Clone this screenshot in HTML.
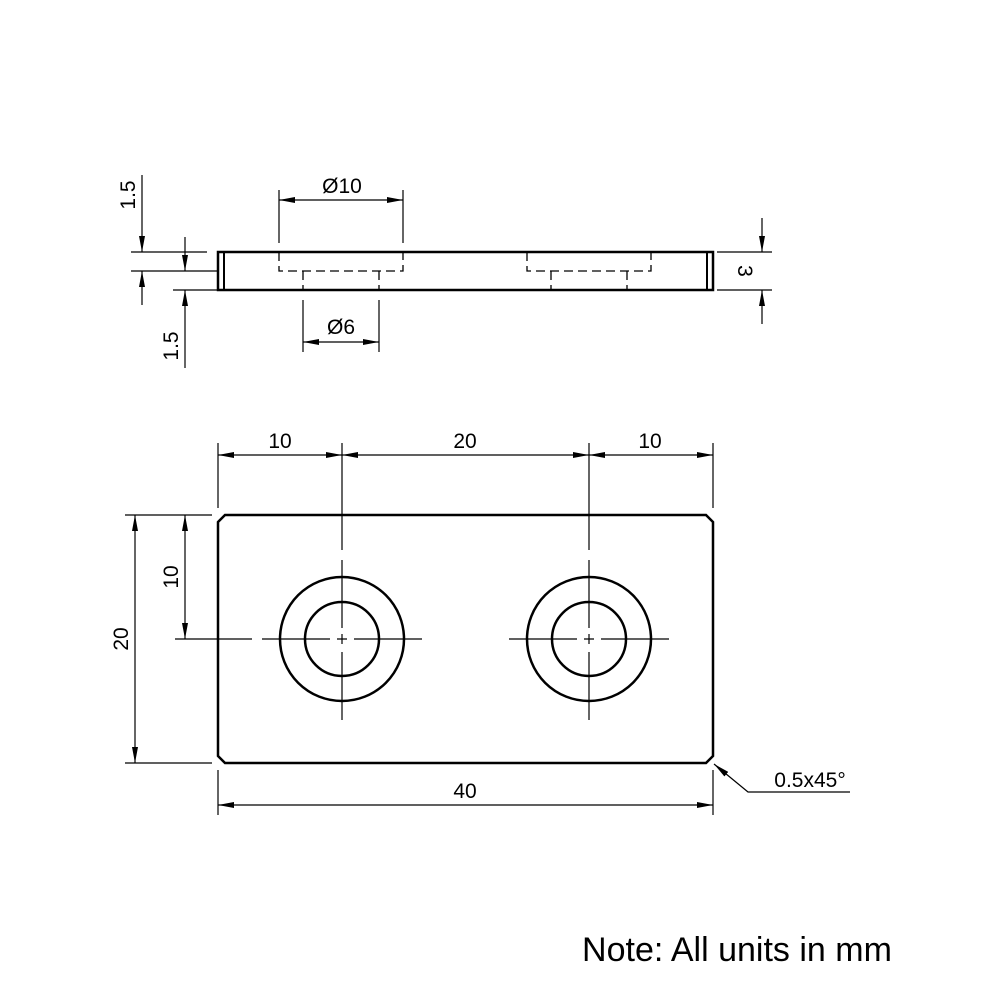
<!DOCTYPE html>
<html><head><meta charset="utf-8"><style>html,body{margin:0;padding:0;background:#fff}svg{display:block}text{font-family:"Liberation Sans",sans-serif;fill:#000}</style></head>
<body>
<svg width="1000" height="1000" viewBox="0 0 1000 1000">
<defs>
<marker id="a" viewBox="0 0 16 6" refX="16" refY="3" markerWidth="16" markerHeight="6" markerUnits="userSpaceOnUse" orient="auto-start-reverse"><path d="M0,0L16,3L0,6z" fill="#000"/></marker>
</defs>
<g stroke="#000" fill="none">
<rect x="218" y="252" width="495" height="38" stroke-width="2.5"/>
<line x1="224" y1="252" x2="224" y2="290" stroke-width="2"/>
<line x1="707" y1="252" x2="707" y2="290" stroke-width="2"/>
<g stroke-width="1.3" stroke-dasharray="9,5">
<path d="M279,252V271H403V252"/><path d="M303,271V290M379,271V290"/>
<path d="M527,252V271H651V252"/><path d="M551,271V290M627,271V290"/>
</g>
<g stroke-width="1.2">
<line x1="131" y1="252" x2="207" y2="252"/>
<line x1="131" y1="271" x2="218" y2="271"/>
<line x1="173" y1="290" x2="218" y2="290"/>
<line x1="142" y1="175" x2="142" y2="252" marker-end="url(#a)"/>
<line x1="142" y1="305" x2="142" y2="271" marker-end="url(#a)"/>
<line x1="185" y1="237" x2="185" y2="271" marker-end="url(#a)"/>
<line x1="185" y1="368" x2="185" y2="290" marker-end="url(#a)"/>
<line x1="279" y1="190" x2="279" y2="243"/><line x1="403" y1="190" x2="403" y2="243"/>
<line x1="279" y1="200" x2="403" y2="200" marker-start="url(#a)" marker-end="url(#a)"/>
<line x1="303" y1="300" x2="303" y2="352"/><line x1="379" y1="300" x2="379" y2="352"/>
<line x1="303" y1="342" x2="379" y2="342" marker-start="url(#a)" marker-end="url(#a)"/>
<line x1="717" y1="252" x2="772" y2="252"/><line x1="717" y1="290" x2="772" y2="290"/>
<line x1="762" y1="218" x2="762" y2="252" marker-end="url(#a)"/>
<line x1="762" y1="324" x2="762" y2="290" marker-end="url(#a)"/>
</g>
<path d="M225,515H706L713,522V756L706,763H225L218,756V522Z" stroke-width="2.5"/>
<circle cx="342" cy="639" r="62" stroke-width="2.5"/><circle cx="342" cy="639" r="37" stroke-width="2.5"/>
<circle cx="589" cy="639" r="62" stroke-width="2.5"/><circle cx="589" cy="639" r="37" stroke-width="2.5"/>
<g stroke-width="1.2">
<path d="M342,443V550M342,560V628M342,634V644M342,652V720"/>
<path d="M589,443V550M589,560V628M589,634V644M589,652V720"/>
<path d="M175,639H252M262,639H330M337,639H347M354,639H422"/>
<path d="M509,639H577M584,639H594M601,639H669"/>
<line x1="218" y1="443" x2="218" y2="508"/><line x1="713" y1="443" x2="713" y2="508"/>
<line x1="218" y1="455" x2="342" y2="455" marker-start="url(#a)" marker-end="url(#a)"/>
<line x1="342" y1="455" x2="589" y2="455" marker-start="url(#a)" marker-end="url(#a)"/>
<line x1="589" y1="455" x2="713" y2="455" marker-start="url(#a)" marker-end="url(#a)"/>
<line x1="125" y1="515" x2="212" y2="515"/><line x1="125" y1="763" x2="212" y2="763"/>
<line x1="135" y1="515" x2="135" y2="763" marker-start="url(#a)" marker-end="url(#a)"/>
<line x1="185" y1="515" x2="185" y2="639" marker-start="url(#a)" marker-end="url(#a)"/>
<line x1="218" y1="770" x2="218" y2="815"/><line x1="713" y1="770" x2="713" y2="815"/>
<line x1="218" y1="805" x2="713" y2="805" marker-start="url(#a)" marker-end="url(#a)"/>
<path d="M850,792H748L714,764" marker-end="url(#a)"/>
</g>
</g>
<g font-size="21">
<text x="342" y="193" text-anchor="middle">Ø10</text>
<text x="341" y="334" text-anchor="middle">Ø6</text>
<text transform="translate(135,195) rotate(-90)" text-anchor="middle">1.5</text>
<text transform="translate(178,346) rotate(-90)" text-anchor="middle">1.5</text>
<text transform="translate(738,271) rotate(90)" text-anchor="middle">3</text>
<text x="280" y="448" text-anchor="middle">10</text>
<text x="465" y="448" text-anchor="middle">20</text>
<text x="650" y="448" text-anchor="middle">10</text>
<text transform="translate(128,639) rotate(-90)" text-anchor="middle">20</text>
<text transform="translate(178,577) rotate(-90)" text-anchor="middle">10</text>
<text x="465" y="798" text-anchor="middle">40</text>
<text x="810" y="787" text-anchor="middle">0.5x45°</text>
</g>
<text x="737" y="961" text-anchor="middle" font-size="34">Note: All units in mm</text>
</svg>
</body></html>
